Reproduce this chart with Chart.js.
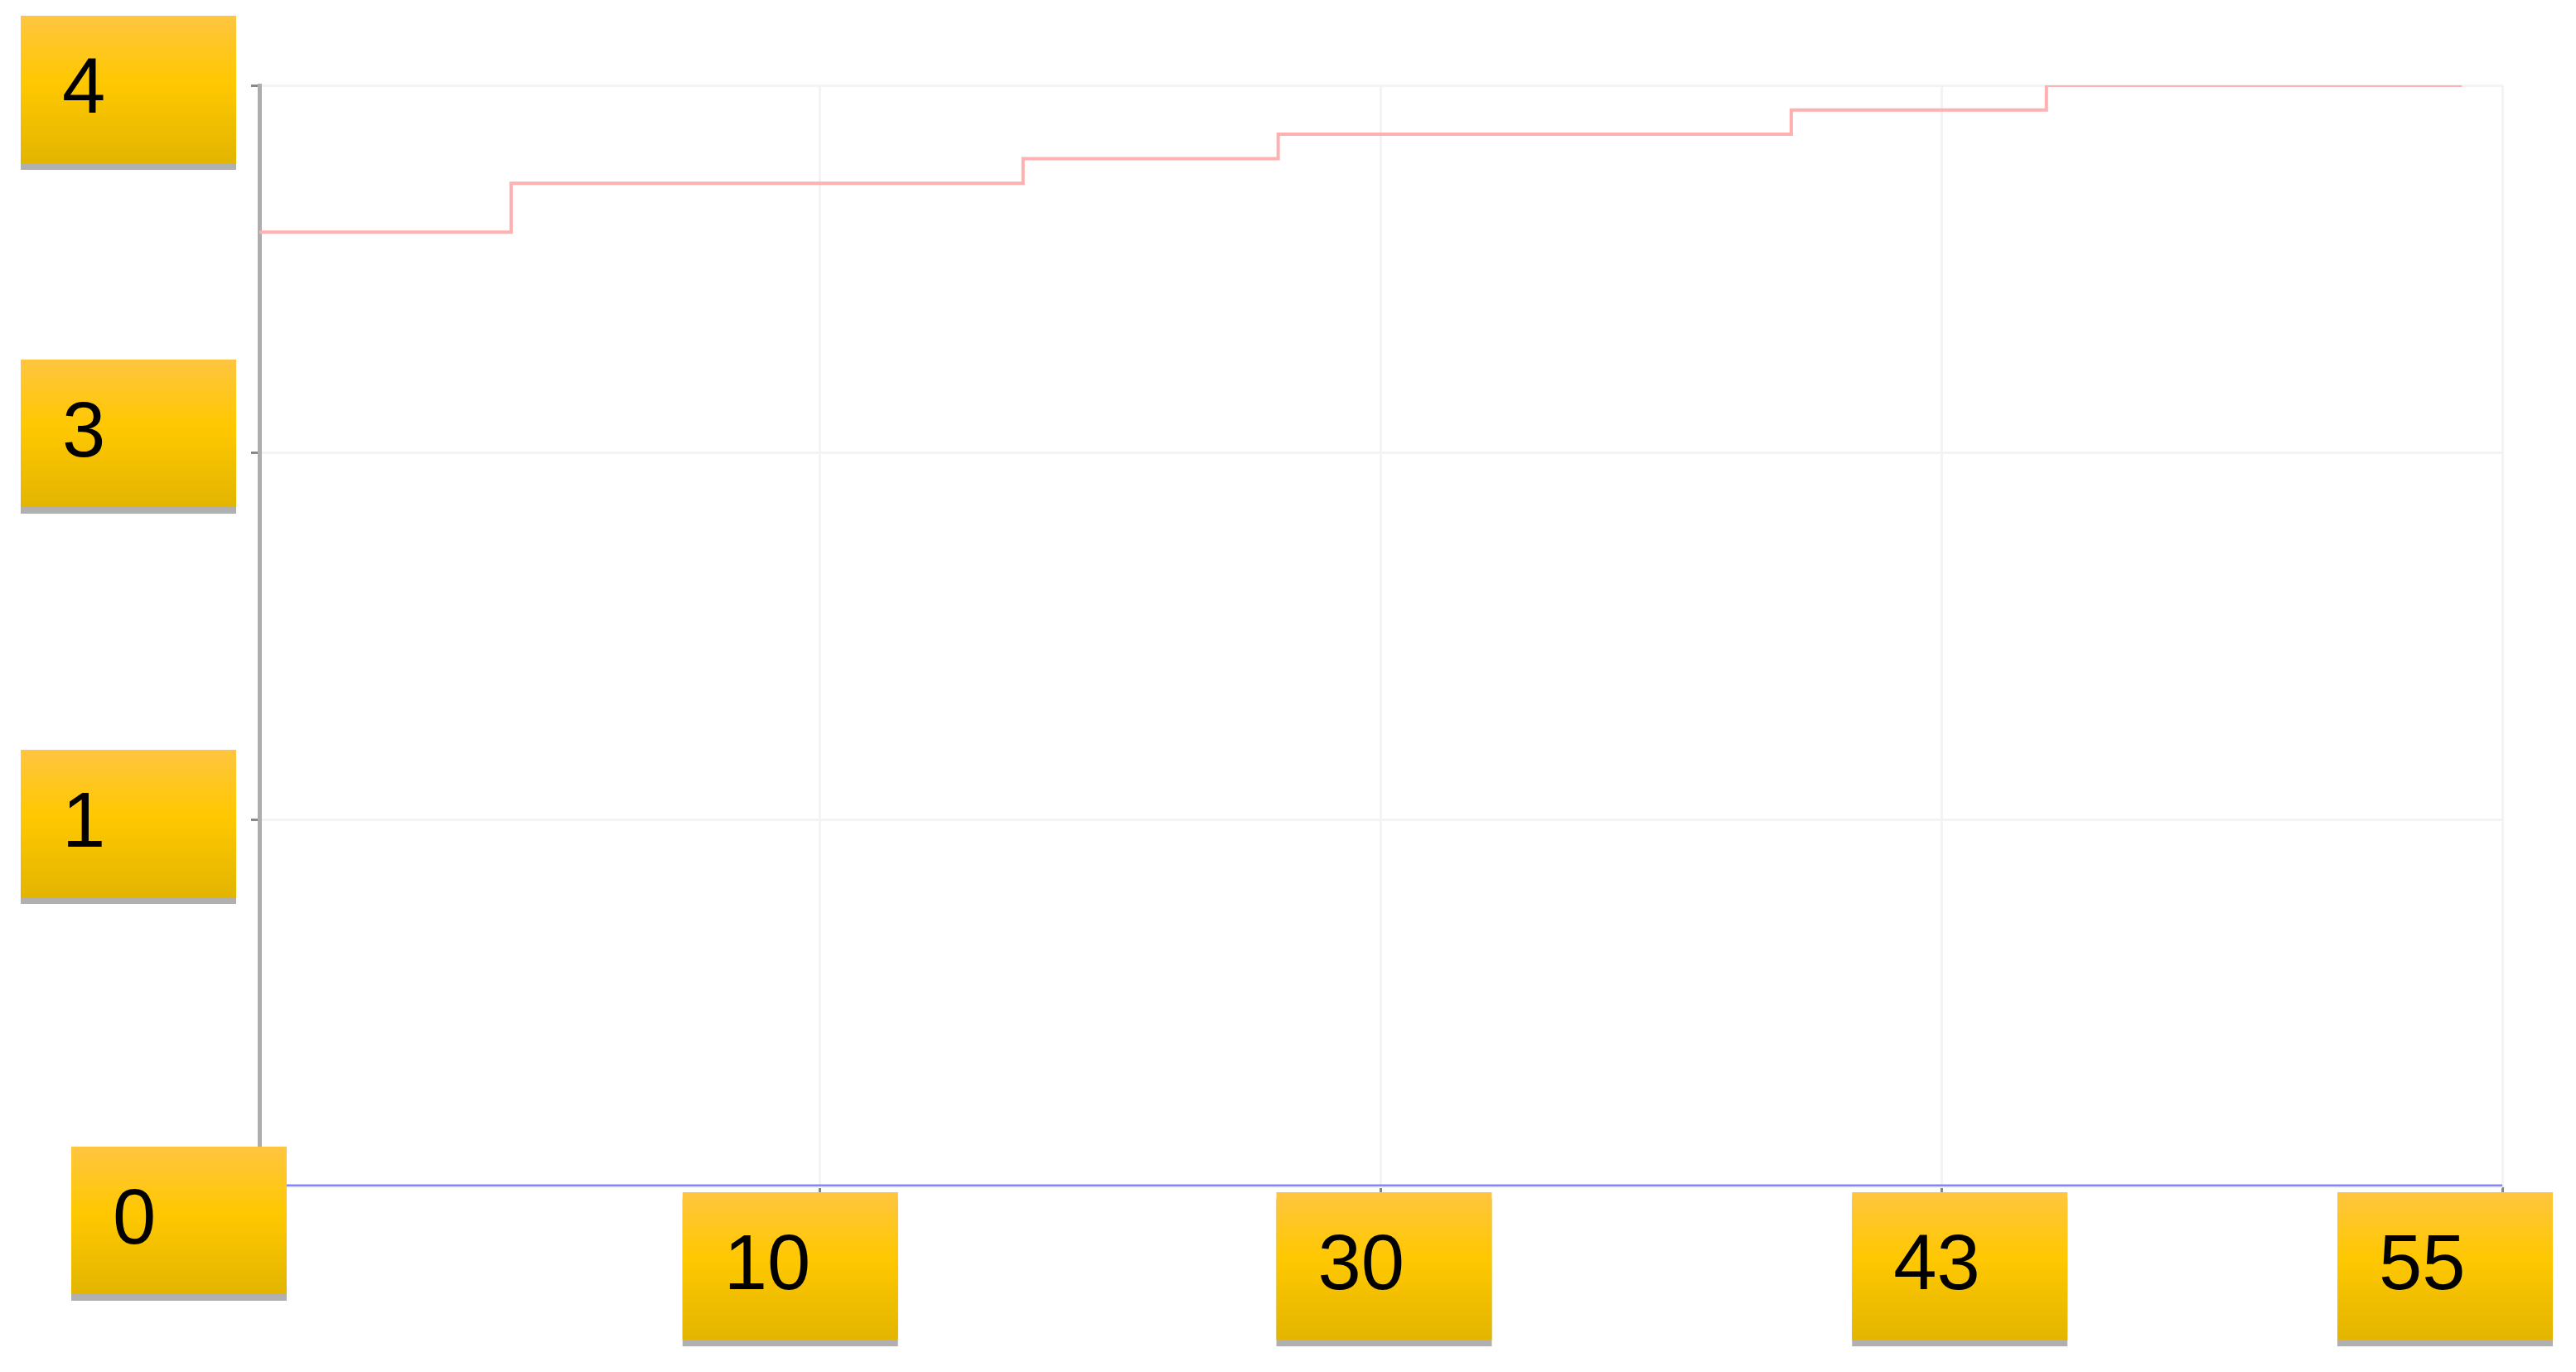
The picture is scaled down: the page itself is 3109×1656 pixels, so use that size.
<!DOCTYPE html>
<html>
<head>
<meta charset="utf-8">
<script src="https://cdn.jsdelivr.net/npm/chart.js@4.4.0/dist/chart.umd.min.js"></script>
<style>
  html, body { margin: 0; padding: 0; background: #fff; }
  canvas { display: block; }
</style>
</head>
<body>
<canvas id="stepChart" width="3109" height="1656"></canvas>
<script>
// tick labels (axes are evenly spaced, labels are not)
const xTickLabels = ["", "10", "30", "43", "55"];
const yTickLabels = ["0", "1", "3", "4"];

// red step series, in axis positions
const redX = [0, 0.449, 1.362, 1.817, 2.732, 3.187, 3.928];
const redY = [2.6, 2.733, 2.8, 2.867, 2.933, 3.0, 3.0];

// blue series sits on the baseline
const blueX = [0, 4];
const blueY = [0, 0];

const toPoints = (xs, ys) => xs.map((x, i) => ({ x: x, y: ys[i] }));

// little nudges so the label tags sit like in the original
const xTagShift = [0, -36, 4, 22, -69];
const yTagShift = [41, 5, -23, 5];
const yTagSide = [61, 0, 0, 0];

const TAG_W = 260;
const TAG_H = 178;

function drawTag(ctx, left, top, text) {
  ctx.fillStyle = "#b0b0b0";
  ctx.fillRect(left, top + 8, TAG_W, TAG_H);
  const g = ctx.createLinearGradient(0, top, 0, top + TAG_H);
  g.addColorStop(0, "#FFC540");
  g.addColorStop(0.45, "#FFC800");
  g.addColorStop(1, "#E3B500");
  ctx.fillStyle = g;
  ctx.fillRect(left, top, TAG_W, TAG_H);
  ctx.fillStyle = "#000";
  ctx.font = '94px "Liberation Sans", Arial, sans-serif';
  ctx.textAlign = "left";
  ctx.textBaseline = "alphabetic";
  ctx.fillText(text, left + 50, top + 117);
}

const tagLabels = {
  id: "tagLabels",
  afterDraw(chart) {
    const ctx = chart.ctx;
    const xs = chart.scales.x;
    const ys = chart.scales.y;
    const area = chart.chartArea;
    ctx.save();
    xTickLabels.forEach((t, i) => {
      if (!t) return;
      const cx = xs.getPixelForValue(i) + xTagShift[i];
      drawTag(ctx, cx - TAG_W / 2, area.bottom + 7, t);
    });
    yTickLabels.forEach((t, i) => {
      const cy = ys.getPixelForValue(i) + yTagShift[i];
      drawTag(ctx, area.left - 28 - TAG_W + yTagSide[i], cy - TAG_H / 2, t);
    });
    ctx.restore();
  },
};

const ctx = document.getElementById("stepChart").getContext("2d");
new Chart(ctx, {
  type: "line",
  data: {
    datasets: [
      {
        label: "red",
        data: toPoints(redX, redY),
        borderColor: "#ffb0b0",
        borderWidth: 4,
        stepped: true,
        pointRadius: 0,
        fill: false,
      },
      {
        label: "blue",
        data: toPoints(blueX, blueY),
        borderColor: "#8585ff",
        borderWidth: 5,
        pointRadius: 0,
        fill: false,
      },
    ],
  },
  options: {
    responsive: false,
    animation: false,
    devicePixelRatio: 1,
    layout: { padding: { top: 103, right: 89, left: 0, bottom: 0 } },
    plugins: { legend: { display: false }, tooltip: { enabled: false } },
    scales: {
      x: {
        type: "linear",
        min: 0,
        max: 4,
        ticks: { stepSize: 1, display: false },
        grid: { color: "#f3f3f3", lineWidth: 3, tickColor: "#888", tickLength: 9 },
        border: { color: "#e6e6ff", width: 2 },
        afterFit: (s) => { s.height = 224; },
      },
      y: {
        type: "linear",
        min: 0,
        max: 3,
        ticks: { stepSize: 1, display: false },
        grid: { color: "#f3f3f3", lineWidth: 3, tickColor: "#888", tickLength: 10 },
        border: { color: "#adadad", width: 5 },
        afterFit: (s) => { s.width = 313; },
      },
    },
  },
  plugins: [tagLabels],
});
</script>
</body>
</html>
